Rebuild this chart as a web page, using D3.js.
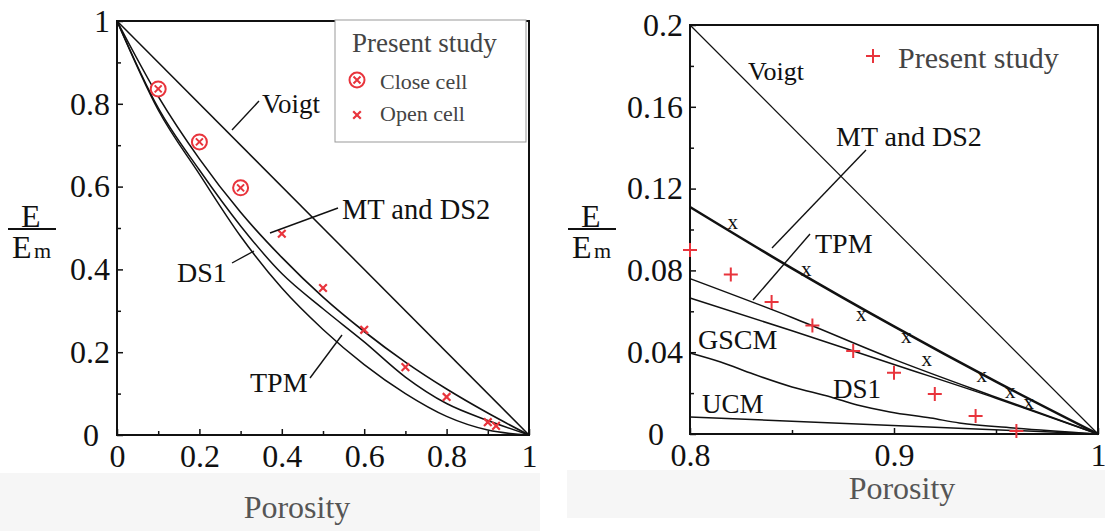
<!DOCTYPE html>
<html>
<head>
<meta charset="utf-8">
<script src="https://cdn.jsdelivr.net/npm/d3@7"></script>
<style>
  body { margin: 0; background: #fff; }
  svg { display: block; }
  svg text { font-family: "Liberation Serif", "DejaVu Serif", serif; }
</style>
</head>
<body>
<script>
// ---- left panel data (porosity 0..1) ----
var leftPorosity = [0, 0.1, 0.2, 0.3, 0.4, 0.5, 0.6, 0.7, 0.8, 0.9, 1];
var leftMT  = [1, 0.818, 0.667, 0.538, 0.429, 0.333, 0.25, 0.176, 0.111, 0.053, 0];
var leftTPM = [1, 0.79, 0.64, 0.505, 0.39, 0.305, 0.225, 0.14, 0.076, 0.035, 0];
var leftDS1 = [1, 0.785, 0.63, 0.48, 0.355, 0.255, 0.17, 0.10, 0.045, 0.012, 0];
var leftVoigtP = [0, 1];
var leftVoigt  = [1, 0];

var closeCellP = [0.1, 0.2, 0.3];
var closeCellE = [0.836, 0.708, 0.597];
var openCellP = [0.4, 0.5, 0.6, 0.7, 0.8, 0.9, 0.92];
var openCellE = [0.486, 0.355, 0.254, 0.164, 0.092, 0.031, 0.022];

var leftXTicks = [0, 0.2, 0.4, 0.6, 0.8, 1];
var leftYTicks = [0, 0.2, 0.4, 0.6, 0.8, 1];
var leftMinor  = [0.1, 0.3, 0.5, 0.7, 0.9];

// ---- right panel data (porosity 0.8..1) ----
var rightVoigtP = [0.8, 1];
var rightVoigt  = [0.2, 0];
var rightCurveP = [0.8, 0.85, 0.9, 0.95, 1];
var rightMT   = [0.111, 0.081, 0.0526, 0.0256, 0];
var rightTPM  = [0.076, 0.057, 0.0365, 0.018, 0];
var rightGSCM = [0.0665, 0.0505, 0.034, 0.0175, 0];
var rightDS1P = [0.8, 0.815, 0.831, 0.85, 0.869, 0.882, 0.898, 0.918, 0.932, 0.96, 1];
var rightDS1  = [0.0396, 0.0352, 0.0293, 0.023, 0.0181, 0.0142, 0.0108, 0.0078, 0.0054, 0.0028, 0];
var rightUCMP = [0.8, 1];
var rightUCM  = [0.0083, 0];

var otherStudyP = [0.821, 0.857, 0.884, 0.906, 0.916, 0.943, 0.957, 0.966];
var otherStudyE = [0.103, 0.080, 0.058, 0.047, 0.036, 0.028, 0.020, 0.015];
var presentP = [0.8, 0.82, 0.84, 0.86, 0.88, 0.9, 0.92, 0.94, 0.96];
var presentE = [0.090, 0.078, 0.0645, 0.053, 0.0406, 0.030, 0.0196, 0.0088, 0.0015];

var rightXTicks = [0.8, 0.9, 1];
var rightXMinor = [0.85, 0.95];
var rightYTicks = [0, 0.04, 0.08, 0.12, 0.16, 0.2];
var rightYMinor = [0.02, 0.06, 0.1, 0.14, 0.18];

var serif = "Liberation Serif";
var red = "#e8343c";

var svg = d3.select("body").append("svg")
    .attr("width", 1105)
    .attr("height", 531);

// faint scan strip at the bottom
svg.append("rect").attr("x", 0).attr("y", 473).attr("width", 540).attr("height", 58).attr("fill", "#f6f6f6");
svg.append("rect").attr("x", 567).attr("y", 470).attr("width", 538).attr("height", 48).attr("fill", "#f6f6f6");

var xL = d3.scaleLinear().domain([0, 1]).range([117, 529]);
var yL = d3.scaleLinear().domain([0, 1]).range([435, 21]);
var xR = d3.scaleLinear().domain([0.8, 1]).range([690, 1098]);
var yR = d3.scaleLinear().domain([0, 0.2]).range([434, 25]);

function styleAxis(g, size) {
  g.select(".domain").remove();
  g.attr("font-family", serif).attr("font-size", size);
  g.selectAll("line").attr("stroke", "#111").attr("stroke-width", 1.5);
  g.selectAll("text").attr("fill", "#111");
}

function axes(x, y, xt, xm, yt, ym, zeroShift) {
  var x0 = x.range()[0], y0 = y.range()[0];
  svg.append("g").attr("transform", "translate(0," + y0 + ")")
    .call(d3.axisBottom(x).tickValues(xt).tickSize(-6).tickPadding(9).tickFormat(d3.format("")))
    .call(styleAxis, 32);
  svg.append("g").attr("transform", "translate(0," + y0 + ")")
    .call(d3.axisBottom(x).tickValues(xm).tickSize(-4).tickFormat(""))
    .call(styleAxis, 32);
  var gy = svg.append("g").attr("transform", "translate(" + x0 + ",0)")
    .call(d3.axisLeft(y).tickValues(yt).tickSize(-6).tickPadding(7).tickFormat(d3.format("")))
    .call(styleAxis, 32);
  gy.selectAll(".tick text").filter(function(d) { return d === 0; })
    .attr("x", -7 - zeroShift);
  svg.append("g").attr("transform", "translate(" + x0 + ",0)")
    .call(d3.axisLeft(y).tickValues(ym).tickSize(-4).tickFormat(""))
    .call(styleAxis, 32);
  svg.append("rect")
    .attr("x", x.range()[0]).attr("y", y.range()[1])
    .attr("width", x.range()[1] - x.range()[0])
    .attr("height", y.range()[0] - y.range()[1])
    .attr("fill", "none").attr("stroke", "#111").attr("stroke-width", 2);
}

function curve(x, y, px, ey, w, smooth) {
  var line = d3.line().x(function(d) { return x(d[0]); }).y(function(d) { return y(d[1]); });
  if (smooth) line.curve(d3.curveMonotoneX);
  svg.append("path").datum(d3.zip(px, ey))
    .attr("d", line).attr("fill", "none")
    .attr("stroke", "#111").attr("stroke-width", w);
}

function label(txt, x, y, size, color) {
  return svg.append("text").attr("x", x).attr("y", y)
    .attr("font-family", serif).attr("font-size", size)
    .attr("fill", color || "#111").text(txt);
}

function leader(x1, y1, x2, y2) {
  svg.append("line").attr("x1", x1).attr("y1", y1).attr("x2", x2).attr("y2", y2)
    .attr("stroke", "#111").attr("stroke-width", 1.4);
}

function fracLabel(cx) {
  label("E", cx - 11, 227, 32).attr("text-anchor", "start");
  svg.append("line").attr("x1", cx - 24).attr("x2", cx + 24).attr("y1", 229).attr("y2", 229)
    .attr("stroke", "#111").attr("stroke-width", 2);
  label("E", cx - 20, 258, 32);
  label("m", cx + 2, 258, 22);
}

function closeMark(cx, cy) {
  var g = svg.append("g").attr("transform", "translate(" + cx + "," + cy + ")")
    .attr("stroke", red).attr("stroke-width", 2).attr("fill", "#fff");
  g.append("circle").attr("r", 7.5);
  g.append("path").attr("d", "M-3.5,-3.5L3.5,3.5M-3.5,3.5L3.5,-3.5");
}

function crossMark(cx, cy, s, color, w) {
  svg.append("path").attr("transform", "translate(" + cx + "," + cy + ")")
    .attr("d", "M" + (-s) + "," + (-s) + "L" + s + "," + s + "M" + (-s) + "," + s + "L" + s + "," + (-s))
    .attr("stroke", color).attr("stroke-width", w).attr("fill", "none");
}

function plusMark(cx, cy) {
  svg.append("path").attr("transform", "translate(" + cx + "," + cy + ")")
    .attr("d", "M-7,0L7,0M0,-7L0,7")
    .attr("stroke", red).attr("stroke-width", 2).attr("fill", "none");
}

// ---------- left panel ----------
axes(xL, yL, leftXTicks, leftMinor, leftYTicks, leftMinor, 11);
curve(xL, yL, leftVoigtP, leftVoigt, 1.5, false);
curve(xL, yL, leftPorosity, leftMT, 1.6, true);
curve(xL, yL, leftPorosity, leftTPM, 1.5, true);
curve(xL, yL, leftPorosity, leftDS1, 1.5, true);

closeCellP.forEach(function(p, i) { closeMark(xL(p), yL(closeCellE[i])); });
openCellP.forEach(function(p, i) { crossMark(xL(p), yL(openCellE[i]), 3.8, red, 2.2); });

label("Voigt", 262, 113, 27);
leader(232, 130, 259, 101);
label("MT and DS2", 342, 219, 28.5);
leader(270, 233, 338, 208);
label("DS1", 177, 282, 28);
leader(232, 263, 254, 251);
label("TPM", 250, 392, 28);
leader(310, 378, 342, 335);

// legend box
svg.append("rect").attr("x", 335).attr("y", 20).attr("width", 191).attr("height", 122)
  .attr("fill", "#fff").attr("stroke", "#999").attr("stroke-width", 1);
label("Present study", 352, 52, 27, "#444");
closeMark(357, 80);
label("Close cell", 380, 89, 22, "#444");
crossMark(357, 115, 3.8, red, 2.2);
label("Open cell", 380, 121, 22, "#444");

fracLabel(32);
label("Porosity", 297, 518, 32, "#555").attr("text-anchor", "middle");

// ---------- right panel ----------
axes(xR, yR, rightXTicks, rightXMinor, rightYTicks, rightYMinor, 19);
curve(xR, yR, rightVoigtP, rightVoigt, 1.2, false);
curve(xR, yR, rightCurveP, rightMT, 2.6, true);
curve(xR, yR, rightCurveP, rightTPM, 1.5, true);
curve(xR, yR, rightCurveP, rightGSCM, 1.5, true);
curve(xR, yR, rightDS1P, rightDS1, 1.5, true);
curve(xR, yR, rightUCMP, rightUCM, 1.5, false);

otherStudyP.forEach(function(p, i) {
  label("x", xR(p), yR(otherStudyE[i]), 21)
    .attr("text-anchor", "middle").attr("dy", "0.25em");
});
presentP.forEach(function(p, i) { plusMark(xR(p), yR(presentE[i])); });

label("Voigt", 748, 80, 26);
label("MT and DS2", 836, 146, 28);
leader(866, 150, 772, 248);
label("TPM", 815, 253, 28);
leader(810, 234, 753, 300);
label("GSCM", 698, 349, 28);
label("DS1", 833, 398, 27);
label("UCM", 702, 413, 27);

plusMark(873, 56);
label("Present study", 898, 68, 30, "#444");

fracLabel(592);
label("Porosity", 902, 499, 32, "#555").attr("text-anchor", "middle");
</script>
</body>
</html>
